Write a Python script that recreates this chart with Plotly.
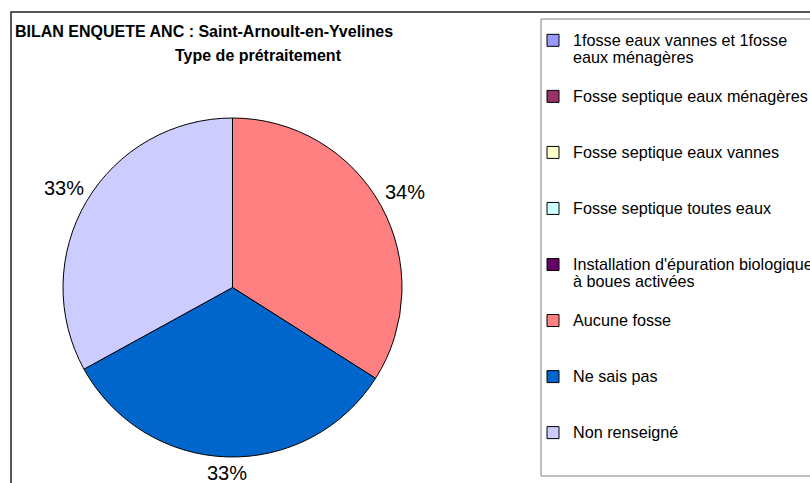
import math
import plotly.graph_objects as go

# ---- data ----
categories = [
    "1fosse eaux vannes et 1fosse<br>eaux ménagères",
    "Fosse septique eaux ménagères",
    "Fosse septique eaux vannes",
    "Fosse septique toutes eaux",
    "Installation d'épuration biologique<br>à boues activées",
    "Aucune fosse",
    "Ne sais pas",
    "Non renseigné",
]
values = [0, 0, 0, 0, 0, 34, 33, 33]
colors = ["#9999FF", "#993366", "#FFFFCC", "#CCFFFF", "#660066",
          "#FF8080", "#0066CC", "#CCCCFF"]
title_line1 = "BILAN ENQUETE ANC : Saint-Arnoult-en-Yvelines"
title_line2 = "Type de prétraitement"

W, H = 810, 483
FONT = "Liberation Sans, Arial, sans-serif"

# pie placement (pixels)
PIE_L, PIE_R, PIE_T, PIE_B = 63, 402, 118, 457


def px(x):
    return x / W


def py(y):
    return 1 - y / H


def legend_label(cat, lines_per_item=3, size=16.2):
    parts = cat.split("<br>")
    styled = [f"<span style='font-size:{size}px'>{p}</span>" for p in parts]
    pad = [" "] * max(0, lines_per_item - len(parts))
    return "<br>".join(styled + pad)


labels = [legend_label(c) for c in categories]

fig = go.Figure()
fig.add_trace(go.Pie(
    labels=labels,
    values=values,
    textinfo="none",
    marker=dict(colors=colors, line=dict(color="black", width=1)),
    sort=False,
    direction="clockwise",
    rotation=0,
    domain=dict(x=[px(PIE_L), px(PIE_R)], y=[py(PIE_B), py(PIE_T)]),
    hoverinfo="label+percent",
))

# percentage labels outside each non-empty slice, centred on the slice mid-angle
total = sum(values)
cx, cy = (PIE_L + PIE_R) / 2, (PIE_T + PIE_B) / 2
radius = (PIE_R - PIE_L) / 2
gap, half_w, half_h = 5, 20, 11
pct_annotations = []
cum = 0
for v in values:
    if v > 0:
        mid = (cum + v / 2) / total * 2 * math.pi
        dx, dy = math.sin(mid), -math.cos(mid)
        ext = min(half_w / abs(dx) if abs(dx) > 1e-9 else 1e9,
                  half_h / abs(dy) if abs(dy) > 1e-9 else 1e9)
        d = radius + gap + ext
        pct_annotations.append(dict(
            text=f"{round(v / total * 100)}%", xref="paper", yref="paper",
            x=px(cx + d * dx), y=py(cy + d * dy),
            xanchor="center", yanchor="middle", showarrow=False,
            font=dict(size=20, family=FONT, color="black")))
    cum += v

fig.update_layout(
    width=W, height=H,
    margin=dict(l=0, r=0, t=0, b=0, autoexpand=False),
    paper_bgcolor="white",
    plot_bgcolor="white",
    font=dict(family=FONT, color="black"),
    showlegend=True,
    legend=dict(
        x=px(533), y=py(25), xanchor="left", yanchor="top",
        font=dict(size=13.6, family=FONT, color="black"),
        bgcolor="rgba(0,0,0,0)", borderwidth=0,
        valign="top", traceorder="normal",
    ),
    shapes=[
        dict(type="rect", xref="paper", yref="paper",
             x0=px(11), x1=1.05, y0=-0.05, y1=py(12),
             line=dict(color="#222222", width=1.5), fillcolor="rgba(0,0,0,0)"),
        dict(type="rect", xref="paper", yref="paper",
             x0=px(541), x1=1.05, y0=py(476), y1=py(19),
             line=dict(color="#808080", width=1), fillcolor="rgba(0,0,0,0)"),
    ],
    annotations=[
        dict(text=f"<b>{title_line1}</b>", xref="paper", yref="paper",
             x=px(13), y=py(31), xanchor="left", yanchor="middle",
             showarrow=False, font=dict(size=16, family=FONT, color="black")),
        dict(text=f"<b>{title_line2}</b>", xref="paper", yref="paper",
             x=px(258.5), y=py(56), xanchor="center", yanchor="middle",
             showarrow=False, font=dict(size=16, family=FONT, color="black")),
    ] + pct_annotations,
)

fig.write_html("out.html", config={"displayModeBar": False},
               post_script="document.body.style.margin='0px';")
